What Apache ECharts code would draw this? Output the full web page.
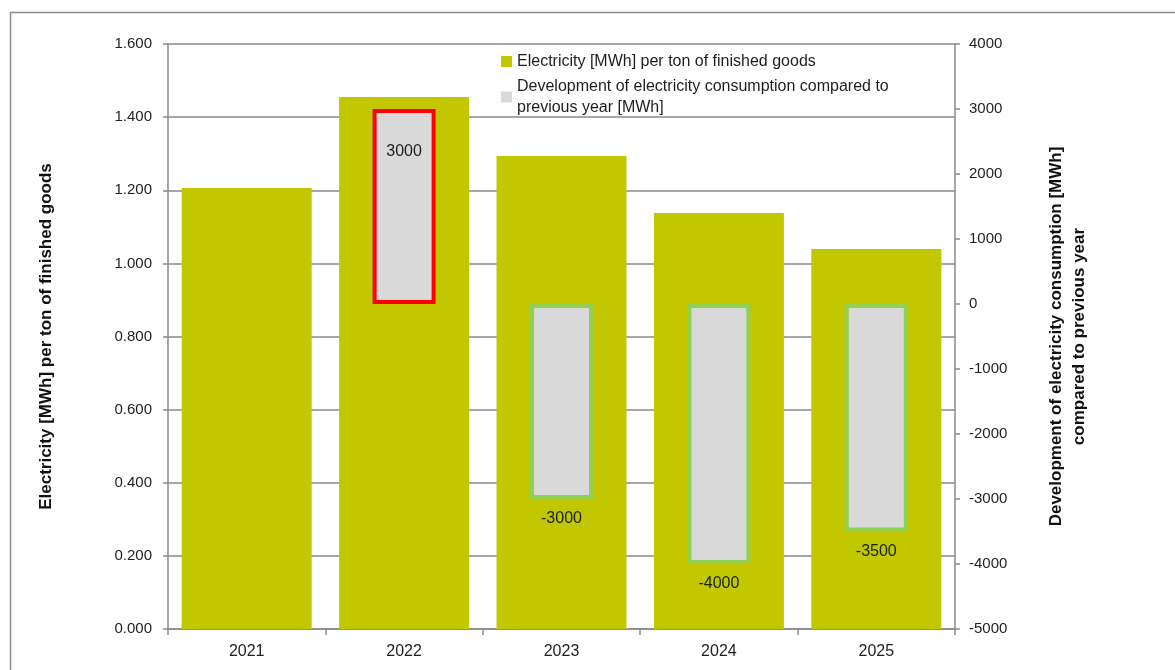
<!DOCTYPE html>
<html><head><meta charset="utf-8">
<script src="https://cdn.jsdelivr.net/npm/echarts@6/dist/echarts.min.js"></script>
<style>html,body{margin:0;padding:0;background:#fff}#c{width:1175px;height:670px}</style>
</head><body><div id="c"></div>
<script>
// ---- data ----
const years = ['2021', '2022', '2023', '2024', '2025'];
const electricityPerTon = [1.206, 1.455, 1.294, 1.138, 1.039];
const consumptionChange = [null, 3000, -3000, -4000, -3500];
const seriesNames = [
  'Electricity [MWh] per ton of finished goods',
  'Development of electricity consumption compared to\nprevious year [MWh]'
];
const leftAxisTitle = 'Electricity [MWh] per ton of finished goods';
const rightAxisTitle = 'Development of electricity consumption [MWh]\ncompared to previous year';

const FONT = 'Liberation Sans';
const TXT = '#1e1e1e';
const AX = '#8a8a8a';

const changeData = consumptionChange.map(v => {
  if (v === null) return null;
  const pos = v >= 0;
  return {
    value: v,
    itemStyle: { borderColor: pos ? '#FF0000' : '#92D050', borderWidth: 4 },
    label: pos ? { position: 'insideTop', distance: 35 } : { position: 'bottom', distance: 12 }
  };
});

const chart = echarts.init(document.getElementById('c'), null, { renderer: 'canvas' });
chart.setOption({
  animation: false,
  backgroundColor: '#fff',
  textStyle: { fontFamily: FONT },
  graphic: [{
    type: 'rect', shape: { x: 10.5, y: 12.5, width: 1300, height: 800 },
    style: { fill: 'none', stroke: '#8c8c8c', lineWidth: 1.5 }, silent: true, z: -10
  }],
  legend: {
    orient: 'vertical', left: 496, top: 46, itemWidth: 11, itemHeight: 11, itemGap: 4, icon: 'rect',
    textStyle: { fontFamily: FONT, fontSize: 16, color: TXT, lineHeight: 21 },
    data: [
      { name: seriesNames[0], itemStyle: { color: '#C2C700', borderWidth: 0 } },
      { name: seriesNames[1], itemStyle: { color: '#D9D9D9', borderWidth: 0 } }
    ]
  },
  grid: { left: 168, right: 220, top: 44, bottom: 41, containLabel: false },
  xAxis: [{
    type: 'category', data: years,
    axisLine: { lineStyle: { color: AX, width: 1.5 } },
    axisTick: { show: true, length: 6, lineStyle: { color: AX, width: 1.5 } },
    axisLabel: { color: TXT, fontSize: 16, margin: 15, fontFamily: FONT }
  }, {
    type: 'category', data: years, show: false
  }],
  yAxis: [{
    type: 'value', min: 0, max: 1.6, interval: 0.2, position: 'left',
    name: leftAxisTitle, nameLocation: 'middle', nameGap: 113, nameRotate: 90,
    nameTextStyle: { fontSize: 17, fontWeight: 'bold', color: '#111', fontFamily: FONT },
    axisLine: { show: true, lineStyle: { color: AX, width: 1.5 } },
    axisTick: { show: true, length: 5, lineStyle: { color: AX, width: 1.5 } },
    axisLabel: { color: TXT, fontSize: 15, margin: 16, fontFamily: FONT, formatter: v => v.toFixed(3) },
    splitLine: { show: true, lineStyle: { color: AX, width: 1.5 } }
  }, {
    type: 'value', min: -5000, max: 4000, interval: 1000, position: 'right',
    name: rightAxisTitle, nameLocation: 'middle', nameGap: 90, nameRotate: 90,
    nameTextStyle: { fontSize: 17, fontWeight: 'bold', color: '#111', fontFamily: FONT, lineHeight: 23 },
    axisLine: { show: true, lineStyle: { color: AX, width: 1.5 } },
    axisTick: { show: true, length: 5, lineStyle: { color: AX, width: 1.5 } },
    axisLabel: { color: TXT, fontSize: 15, margin: 14, fontFamily: FONT, formatter: v => String(v) },
    splitLine: { show: false }
  }],
  series: [{
    name: seriesNames[0], type: 'bar', xAxisIndex: 0, yAxisIndex: 0,
    data: electricityPerTon, barWidth: 130,
    itemStyle: { color: '#C2C700' }, z: 2
  }, {
    name: seriesNames[1], type: 'bar', xAxisIndex: 1, yAxisIndex: 1,
    data: changeData, barWidth: 63,
    itemStyle: { color: '#D9D9D9' }, z: 3,
    label: { show: true, color: TXT, fontSize: 16, fontFamily: FONT }
  }]
});
</script></body></html>
